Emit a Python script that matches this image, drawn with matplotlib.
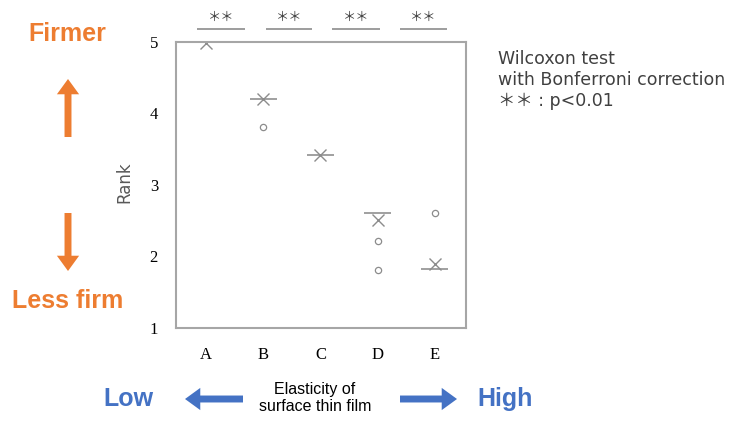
import matplotlib.pyplot as plt
from matplotlib.patches import FancyArrowPatch

categories = ['A', 'B', 'C', 'D', 'E']
medians = [5.0, 4.20, 3.42, 2.61, 1.82]
means = [4.99, 4.20, 3.42, 2.51, 1.89]
outlier_x = ['B', 'D', 'D', 'E']
outlier_y = [3.81, 2.22, 1.81, 2.61]
sig_spans = [(0.84, 1.67), (2.04, 2.86), (3.21, 4.04), (4.39, 5.21)]
sig_labels = ['＊＊', '＊＊', '＊＊', '＊＊']
y_ticks = [1, 2, 3, 4, 5]

gray = '#8c8c8c'
orange = '#ED7D31'
blue = '#4472C4'

fig = plt.figure(figsize=(7.31, 4.21), dpi=100)
ax = fig.add_axes([0.2408, 0.2216, 0.3967, 0.6786])

xs = list(range(1, len(categories) + 1))
ax.hlines(medians, [x - 0.24 for x in xs], [x + 0.24 for x in xs],
          color='#a0a0a0', lw=1.4)
ax.plot(xs, means, 'x', ms=9, mew=1.0, color=gray, linestyle='none')
ox = [categories.index(c) + 1 for c in outlier_x]
ax.plot(ox, outlier_y, 'o', ms=4.5, mfc='none', mec=gray, mew=0.9,
        linestyle='none')

ax.set_xlim(0.47, 5.55)
ax.set_ylim(1, 5)
ax.set_xticks(xs)
ax.set_xticklabels(categories, family='Liberation Serif', fontsize=12)
ax.set_yticks(y_ticks)
ax.set_yticklabels([str(t) for t in y_ticks], family='Liberation Serif',
                   fontsize=12)
ax.tick_params(length=0, pad=13, axis='y')
ax.tick_params(length=0, pad=14, axis='x')
for s in ax.spines.values():
    s.set_color('#a6a6a6')
    s.set_linewidth(1.5)
ax.set_ylabel('Rank', fontsize=12, color='#595959')
ax.yaxis.set_label_coords(-0.146, 0.51)

for (a, b), lab in zip(sig_spans, sig_labels):
    ax.hlines(5.18, a, b, color='#8c8c8c', lw=1.2, clip_on=False)
    ax.text((a + b) / 2, 5.34, lab, ha='center', va='center', fontsize=9.5,
            color='#404040', family=['Noto Sans CJK JP', 'DejaVu Sans'])

# annotation text, positions in image pixels (origin top-left)
def px(x, y):
    return (x / 731, 1 - y / 421)

big = dict(fontsize=18, fontweight='bold', ha='center', va='center',
           family='Liberation Sans')
fig.text(*px(67, 34), 'Firmer', color=orange, **big)
fig.text(*px(68, 301), 'Less firm', color=orange, **big)
fig.text(*px(128, 399), 'Low', color=blue, **big)
fig.text(*px(505, 399), 'High', color=blue, **big)
fig.text(*px(315, 398), 'Elasticity of\nsurface thin film', fontsize=11.5,
         ha='center', va='center', family='Liberation Sans', linespacing=1.2)
fig.text(*px(498, 50), 'Wilcoxon test\nwith Bonferroni correction\n＊＊ : p<0.01',
         fontsize=12.5, color='#404040', ha='left', va='top', linespacing=1.2,
         family=['DejaVu Sans', 'Noto Sans CJK JP'])

arrow_style = 'simple,head_width=16,head_length=11,tail_width=5'
arrows = [((68, 137), (68, 79), orange),
          ((68, 213), (68, 271), orange),
          ((243, 399), (185, 399), blue),
          ((400, 399), (457, 399), blue)]
for p0, p1, c in arrows:
    fig.add_artist(FancyArrowPatch(px(*p0), px(*p1), transform=fig.transFigure,
                                   arrowstyle=arrow_style, color=c, lw=0,
                                   shrinkA=0, shrinkB=0))

plt.savefig('out.png', dpi=100)
